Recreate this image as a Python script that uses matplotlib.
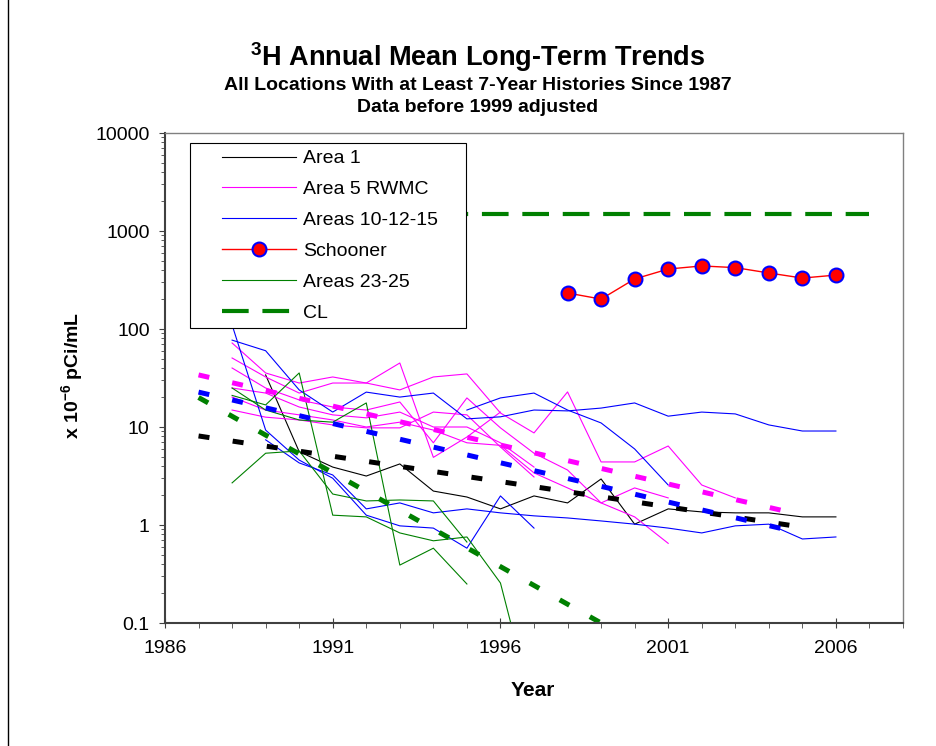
import matplotlib
matplotlib.use('Agg')
import matplotlib.pyplot as plt
from matplotlib.lines import Line2D
from matplotlib.legend_handler import HandlerLine2D
from matplotlib.ticker import LogLocator, NullFormatter, MultipleLocator, FuncFormatter

plt.rcParams['font.family'] = ['Liberation Sans', 'DejaVu Sans']
plt.rcParams['mathtext.fontset'] = 'custom'
plt.rcParams['mathtext.rm'] = 'Liberation Sans'
plt.rcParams['mathtext.bf'] = 'Liberation Sans:bold'

# ---- data ----
area1_years = list(range(1989, 2007))
area1_vals = [34, 5.6, 3.9, 3.16, 4.2, 2.22, 1.93, 1.46, 1.98, 1.68, 2.95, 1.02, 1.46, 1.36, 1.33, 1.33, 1.21, 1.21]

area5_p1_years = list(range(1988, 2004))
area5_p1 = [72, 35.6, 28.1, 32.4, 28.1, 23.9, 32.4, 34.8, 13.9, 8.7, 22.8, 4.4, 4.4, 6.4, 2.56, 1.89]
area5_p2_years = list(range(1988, 1997))
area5_p2 = [50.6, 32.4, 22.2, 28.1, 28.1, 45, 4.9, 7.9, 14.2]
area5_p3_years = list(range(1988, 2002))
area5_p3 = [40, 25, 18.9, 16, 14.9, 18, 6.9, 19.8, 9.8, 5.4, 3.64, 1.68, 1.21, 0.65]
area5_p4_years = list(range(1988, 1998))
area5_p4 = [25, 22.2, 16, 13.3, 12.4, 14.2, 10, 10, 6.9, 3.9]
area5_p5_years = list(range(1988, 2002))
area5_p5 = [20.2, 14.9, 13.3, 11.8, 10, 11.2, 9.3, 6.9, 6.5, 3.4, 2.39, 1.68, 2.39, 1.89]
area5_p6_years = list(range(1988, 1998))
area5_p6 = [14.9, 12.6, 11.8, 10.5, 9.8, 9.8, 14.2, 13.3, 6.25, 3.09]

area10_a_years = list(range(1995, 2002))
area10_a = [14.9, 19.8, 22.2, 14.9, 11, 5.97, 2.56]
area10_b_years = list(range(1988, 2007))
area10_b = [77, 60, 23.9, 14.2, 22.7, 20.2, 22.2, 12.1, 12.7, 14.9, 14.6, 15.6, 17.6, 12.9, 14.2, 13.6, 10.5, 9.1, 9.1]
area10_c_years = list(range(1988, 1998))
area10_c = [110, 9.3, 4.6, 3.0, 1.26, 0.98, 0.93, 0.58, 1.98, 0.93]
area10_d_years = list(range(1989, 2007))
area10_d = [7.4, 4.3, 3.24, 1.46, 1.68, 1.33, 1.46, 1.33, 1.24, 1.18, 1.10, 1.02, 0.93, 0.83, 0.98, 1.02, 0.72, 0.755]

area23_g1_years = list(range(1988, 1998))
area23_g1 = [21, 16.8, 35.6, 1.26, 1.21, 0.83, 0.69, 0.755, 0.256, 0.012]
area23_g2_years = list(range(1988, 1996))
area23_g2 = [2.69, 5.4, 5.7, 2.07, 1.76, 1.8, 1.76, 0.67]
area23_g3_years = list(range(1988, 1996))
area23_g3 = [25, 14.9, 11.8, 11.2, 17.6, 0.39, 0.58, 0.25]

schooner_years = list(range(1998, 2007))
schooner_vals = [233, 202, 324, 409, 440, 423, 373, 331, 355]

cl_years = [1987, 2007]
cl_vals = [1500, 1500]

# trend lines (end points)
trend_area5 = ([1987, 2005], [34, 1.26])
trend_area10 = ([1987, 2005], [22.7, 0.82])
trend_area1 = ([1987, 2005], [8.1, 0.95])
trend_area23 = ([1987, 1999], [20, 0.1])

BLACK, PINK, BLUE, GREEN, RED = 'black', '#FF00FF', '#0000FF', '#008000', '#FF0000'

fig = plt.figure(figsize=(9.36, 7.46), dpi=100)
ax = fig.add_axes([165/936, 1-623/746, 738/936, 490/746])

thin = 0.8
ax.plot(area1_years, area1_vals, color=BLACK, lw=thin)
for yrs, vals in [(area5_p1_years, area5_p1), (area5_p2_years, area5_p2), (area5_p3_years, area5_p3),
                  (area5_p4_years, area5_p4), (area5_p5_years, area5_p5), (area5_p6_years, area5_p6)]:
    ax.plot(yrs, vals, color=PINK, lw=thin)
for yrs, vals in [(area10_a_years, area10_a), (area10_b_years, area10_b),
                  (area10_c_years, area10_c), (area10_d_years, area10_d)]:
    ax.plot(yrs, vals, color=BLUE, lw=thin)
for yrs, vals in [(area23_g1_years, area23_g1), (area23_g2_years, area23_g2), (area23_g3_years, area23_g3)]:
    ax.plot(yrs, vals, color=GREEN, lw=thin)

ax.plot(cl_years, cl_vals, color=GREEN, lw=3.0, dashes=(6.4, 3.3))

for (yrs, vals), c in [(trend_area5, PINK), (trend_area1, BLACK), (trend_area10, BLUE), (trend_area23, GREEN)]:
    ax.plot(yrs, vals, color=c, lw=3.6, dashes=(2.2, 4.7), dash_capstyle='butt')

ax.plot(schooner_years, schooner_vals, color=RED, lw=1, marker='o', markersize=10,
        markerfacecolor=RED, markeredgecolor=BLUE, markeredgewidth=1.5, zorder=5)

ax.set_yscale('log')
ax.set_ylim(0.1, 10000)
ax.set_xlim(1986, 2008)
ax.set_xticks(range(1986, 2007, 5))
ax.xaxis.set_minor_locator(MultipleLocator(1))
ax.yaxis.set_minor_locator(LogLocator(base=10, subs=range(2, 10)))
ax.yaxis.set_minor_formatter(NullFormatter())
ax.yaxis.set_major_formatter(FuncFormatter(lambda v, p: f'{v:g}'))

ax.tick_params(axis='both', which='major', labelsize=14, color='#404040')
ax.tick_params(axis='y', which='major', direction='out', length=4, pad=7)
ax.tick_params(axis='y', which='minor', direction='out', length=3, color='#404040')
ax.tick_params(axis='x', which='major', direction='inout', length=7, pad=9)
ax.tick_params(axis='x', which='minor', direction='out', length=3.5, color='#404040')

for s in ['left', 'bottom']:
    ax.spines[s].set_color('#404040')
    ax.spines[s].set_linewidth(1.5)
for s in ['top', 'right']:
    ax.spines[s].set_color('#808080')
    ax.spines[s].set_linewidth(1.0)

handles = [
    Line2D([], [], color=BLACK, lw=thin),
    Line2D([], [], color=PINK, lw=thin),
    Line2D([], [], color=BLUE, lw=thin),
    Line2D([], [], color=RED, lw=1, marker='o', markersize=10, markerfacecolor=RED,
           markeredgecolor=BLUE, markeredgewidth=1.5),
    Line2D([], [], color=GREEN, lw=thin),
    Line2D([], [], color=GREEN, lw=3.0, dashes=(6.4, 3.3)),
]
labels = ['Area 1', 'Area 5 RWMC', 'Areas 10-12-15', 'Schooner', 'Areas 23-25', 'CL']
leg = ax.legend(handles, labels, loc='upper left', bbox_to_anchor=(25/738, 480/490, 276/738, 0),
                mode='expand', borderaxespad=0, borderpad=0.35, fontsize=14,
                handlelength=5.1, handletextpad=0.36, labelspacing=0.68, numpoints=1,
                fancybox=False, framealpha=1, edgecolor='black',
                handler_map={Line2D: HandlerLine2D(xpad=1.3)})
leg.get_frame().set_linewidth(0.8)
leg.set_zorder(10)

fig.text(0.51, 1-57/746, r'$^{\mathbf{3}}$H Annual Mean Long-Term Trends', ha='center', va='center',
         fontsize=19.5, fontweight='bold')
fig.text(0.51, 1-86/746, 'All Locations With at Least 7-Year Histories Since 1987', ha='center',
         va='center', fontsize=14, fontweight='bold')
fig.text(0.51, 1-107/746, 'Data before 1999 adjusted', ha='center', va='center',
         fontsize=14, fontweight='bold')
fig.text(73/936, 1-375/746, r'x 10$^{\mathbf{-6}}$ pCi/mL', rotation=90, ha='center', va='center',
         fontsize=14, fontweight='bold')
fig.text(533/936, 1-691/746, 'Year', ha='center', va='center', fontsize=15, fontweight='bold')

fig.add_artist(Line2D([8/936, 8/936], [0, 1], transform=fig.transFigure, color='black', lw=1))

fig.savefig('out.png', dpi=100)
